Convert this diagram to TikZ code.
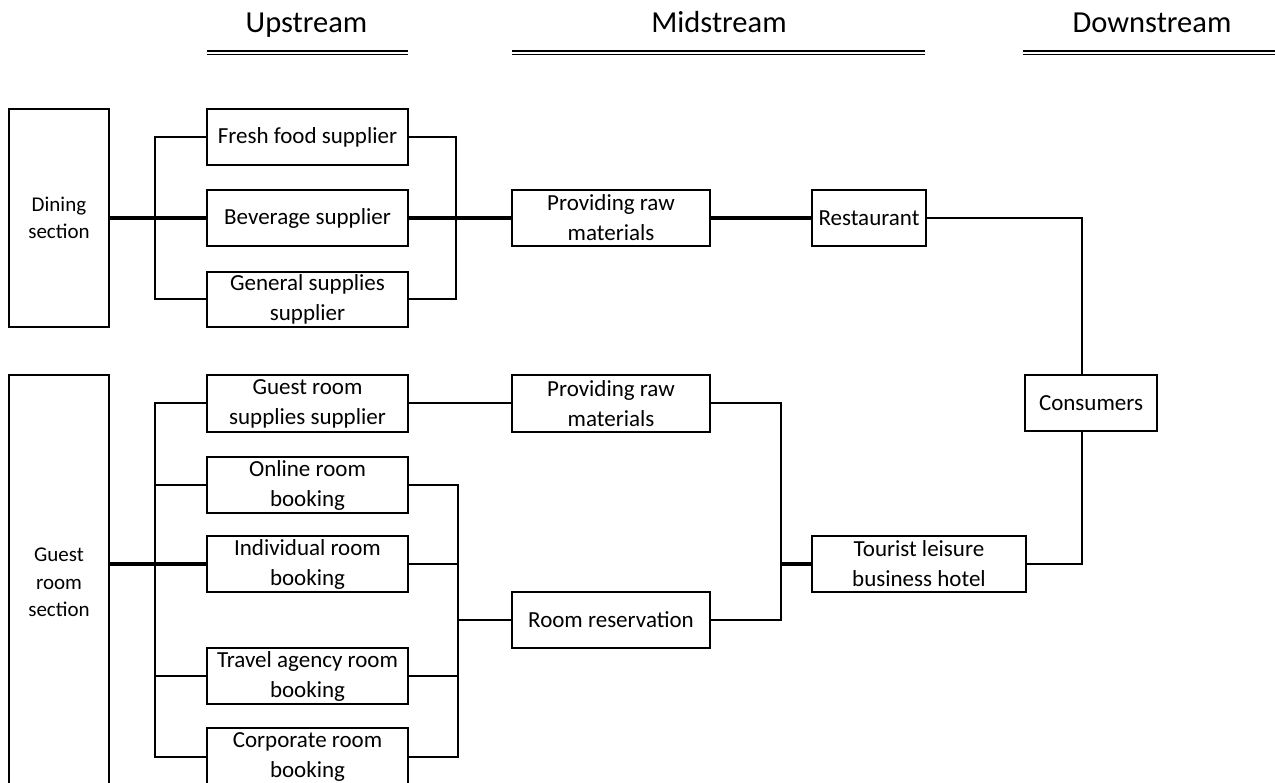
\documentclass[tikz,border=0pt]{standalone}
\usepackage{fontspec}
\setmainfont{Carlito}
\begin{document}
\begin{tikzpicture}[x=1pt,y=-1pt,
  box/.style={draw, line width=2pt, inner sep=0pt, align=center,
    font=\fontsize{23}{30}\selectfont},
  sect/.style={draw, line width=2pt, inner sep=0pt, align=center,
    font=\fontsize{21}{27.5}\selectfont},
  hdr/.style={inner sep=0pt, anchor=base, font=\fontsize{30.5}{36}\selectfont},
  hline/.style={double, line width=1.6pt, double distance=1.8pt},
  conn/.style={line width=2pt},
  thickconn/.style={line width=3.4pt}]
\useasboundingbox (0,0) rectangle (1275,783);

% headers
\node[hdr] (hup) at (306.5,33) {Upstream};
\node[hdr] (hmid) at (719,33) {Midstream};
\node[hdr] (hdown) at (1152,33) {Downstream};
\draw[hline] (207,53) -- (408,53);
\draw[hline] (512,53) -- (925,53);
\draw[hline] (1023,53) -- (1285,53);

% section boxes
\node[sect, minimum width=100pt, minimum height=218pt] (dining) at (59,218) {Dining\\section};
\node[sect, minimum width=100pt, minimum height=415pt] (guest) at (59,582.5) {Guest\\room\\section};

% upstream boxes
\node[box, minimum width=201pt, minimum height=56pt] (fresh) at (307.5,137) {Fresh food supplier};
\node[box, minimum width=201pt, minimum height=56pt] (bev) at (307.5,218) {Beverage supplier};
\node[box, minimum width=201pt, minimum height=55pt] (gen) at (307.5,299.5) {General supplies\\supplier};
\node[box, minimum width=201pt, minimum height=57pt] (gsup) at (307.5,403.5) {Guest room\\supplies supplier};
\node[box, minimum width=201pt, minimum height=56pt] (online) at (307.5,485) {Online room\\booking};
\node[box, minimum width=201pt, minimum height=56pt] (indiv) at (307.5,564) {Individual room\\booking};
\node[box, minimum width=201pt, minimum height=56pt] (travel) at (307.5,676) {Travel agency room\\booking};
\node[box, minimum width=201pt, minimum height=58pt] (corp) at (307.5,757) {Corporate room\\booking};

% midstream boxes
\node[box, minimum width=198pt, minimum height=56pt] (prov1) at (611,218) {Providing raw\\materials};
\node[box, minimum width=198pt, minimum height=57pt] (prov2) at (611,403.5) {Providing raw\\materials};
\node[box, minimum width=198pt, minimum height=56pt] (room) at (611,620) {Room reservation};

% downstream boxes
\node[box, minimum width=114pt, minimum height=56pt] (rest) at (869,218) {Restaurant};
\node[box, minimum width=214pt, minimum height=56pt] (tour) at (919,564) {Tourist leisure\\business hotel};
\node[box, minimum width=132pt, minimum height=56pt] (cons) at (1091,403) {Consumers};

% bus coordinates
\coordinate (busA) at (155,0);
\coordinate (busB) at (456,0);
\coordinate (busC) at (155,0);
\coordinate (busD) at (458,0);
\coordinate (busE) at (781,0);
\coordinate (busF) at (1082,0);

% dining section connectors
\draw[thickconn] (dining.east |- bev.west) -- (bev.west);
\draw[conn] (fresh.west) -| (busA |- gen.west) -- (gen.west);
\draw[conn] (fresh.east) -| (busB |- gen.east) -- (gen.east);
\draw[thickconn] (bev.east) -- (prov1.west);
\draw[thickconn] (prov1.east) -- (rest.west);
\draw[conn] (rest.east) -| (busF |- cons.north);

% guest room connectors
\draw[thickconn] (guest.east |- indiv.west) -- (indiv.west);
\draw[conn] (gsup.west) -| (busC |- corp.west) -- (corp.west);
\draw[conn] (online.west) -- (online.west -| busC);
\draw[conn] (travel.west) -- (travel.west -| busC);
\draw[conn] (online.east) -| (busD |- corp.east) -- (corp.east);
\draw[conn] (indiv.east) -- (indiv.east -| busD);
\draw[conn] (travel.east) -- (travel.east -| busD);
\draw[conn] (room.west) -- (room.west -| busD);
\draw[conn] (gsup.east) -- (prov2.west);
\draw[conn] (prov2.east) -| (busE |- room.east) -- (room.east);
\draw[thickconn] (tour.west) -- (tour.west -| busE);
\draw[conn] (busF |- cons.south) |- (tour.east);
\end{tikzpicture}
\end{document}
